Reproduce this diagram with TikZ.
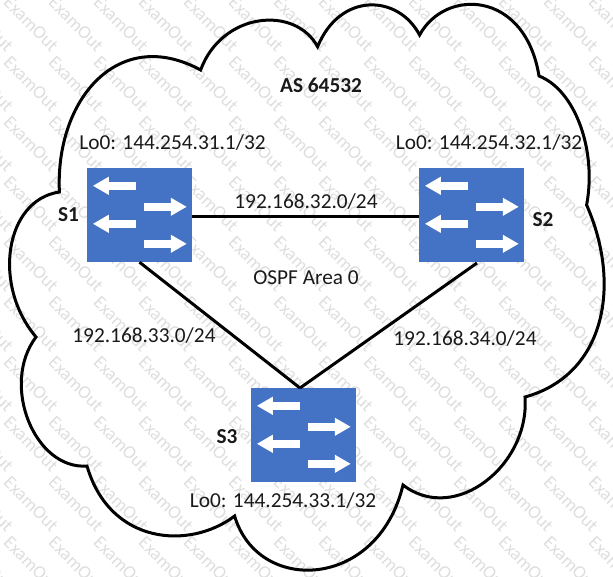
\documentclass[tikz,border=0pt]{standalone}
\usepackage{fontspec}
\setmainfont{Carlito}
\usetikzlibrary{arrows.meta,positioning}

\begin{document}
\begin{tikzpicture}[x=1pt,y=-1pt,node distance=100pt,on grid,inner sep=0pt]
\tikzstyle{swbox} = [rectangle,fill={rgb,255:red,68;green,114;blue,196},minimum width=105pt,minimum height=94pt]
\tikzstyle{txt} = [font=\fontsize{21.3}{25}\selectfont,text=black!90]
\tikzstyle{swname} = [font=\fontsize{21.3}{25}\selectfont\bfseries,text=black!90]
\tikzstyle{wmark} = [font=\fontsize{18.5}{20}\selectfont,text=black!13,rotate=-45]
\tikzset{portout/.style={white,line width=8.5pt,-{Triangle[length=16pt,width=17pt]}}}
\tikzset{ports/.pic={
    \draw[portout] (49,18) -- (6,18);
    \draw[portout] (57,39) -- (100,39);
    \draw[portout] (49,56) -- (6,56);
    \draw[portout] (57,76) -- (100,76);
}}
    \useasboundingbox (0,0) rectangle (613,576);
    % watermark
    \foreach \row in {-2,...,9}
        \foreach \col in {-1,...,13}
            \node[wmark] (wm\row\col) at (31+45*\col,84+60*\row) {ExamOut};

    % cloud
    \draw[line width=3pt,line join=miter]
        (59.4,192) .. controls (55,100) and (118,25) .. (200.6,70)
        .. controls (222,12) and (295,5) .. (317.6,46.7)
        .. controls (340,-8) and (398,-6) .. (419.6,35)
        .. controls (445,-12) and (525,-10) .. (539,76)
        .. controls (575,90) and (597,150) .. (586.6,205)
        .. controls (622,285) and (605,375) .. (525,397)
        .. controls (530,465) and (455,525) .. (403,485)
        .. controls (378,590) and (258,595) .. (234.6,516)
        .. controls (190,550) and (110,545) .. (87,466)
        .. controls (35,470) and (0,385) .. (36,337)
        .. controls (-8,285) and (5,200) .. cycle;

    \node[swbox] (s1) at (139.5,215) {};
    \node[swbox] (s2) [right=332pt of s1] {};
    \node[swbox] (s3) [below right=220pt and 164pt of s1] {};
    \pic at (s1.north west) {ports};
    \pic at (s2.north west) {ports};
    \pic at (s3.north west) {ports};

    \coordinate (s2foot) at (477,263);
    \coordinate (s3top) at (300,388);
    \draw[line width=3pt] ([yshift=-1.5pt]s1.east) -- ([yshift=-1.5pt]s2.west);
    \draw[line width=3pt] (s1.south) -- (s3top);
    \draw[line width=3pt] (s2foot) -- (s3top);

    \node[swname] (as) at (321,85) {AS 64532};
    \node[swname] (s1name) at (68.5,215) {S1};
    \node[swname] (s2name) at (543,220) {S2};
    \node[swname] (s3name) at (227,437) {S3};
    \node[txt] (s1lo) at (172.5,143) {Lo0: 144.254.31.1/32};
    \node[txt] (s2lo) at (489,143) {Lo0: 144.254.32.1/32};
    \node[txt] (s3lo) at (283,500.5) {Lo0: 144.254.33.1/32};
    \node[txt] (net12) at (306,201.5) {192.168.32.0/24};
    \node[txt] (ospf) at (306,278) {OSPF Area 0};
    \node[txt] (net13) at (144,336) {192.168.33.0/24};
    \node[txt] (net23) at (465,339) {192.168.34.0/24};
\end{tikzpicture}
\end{document}
